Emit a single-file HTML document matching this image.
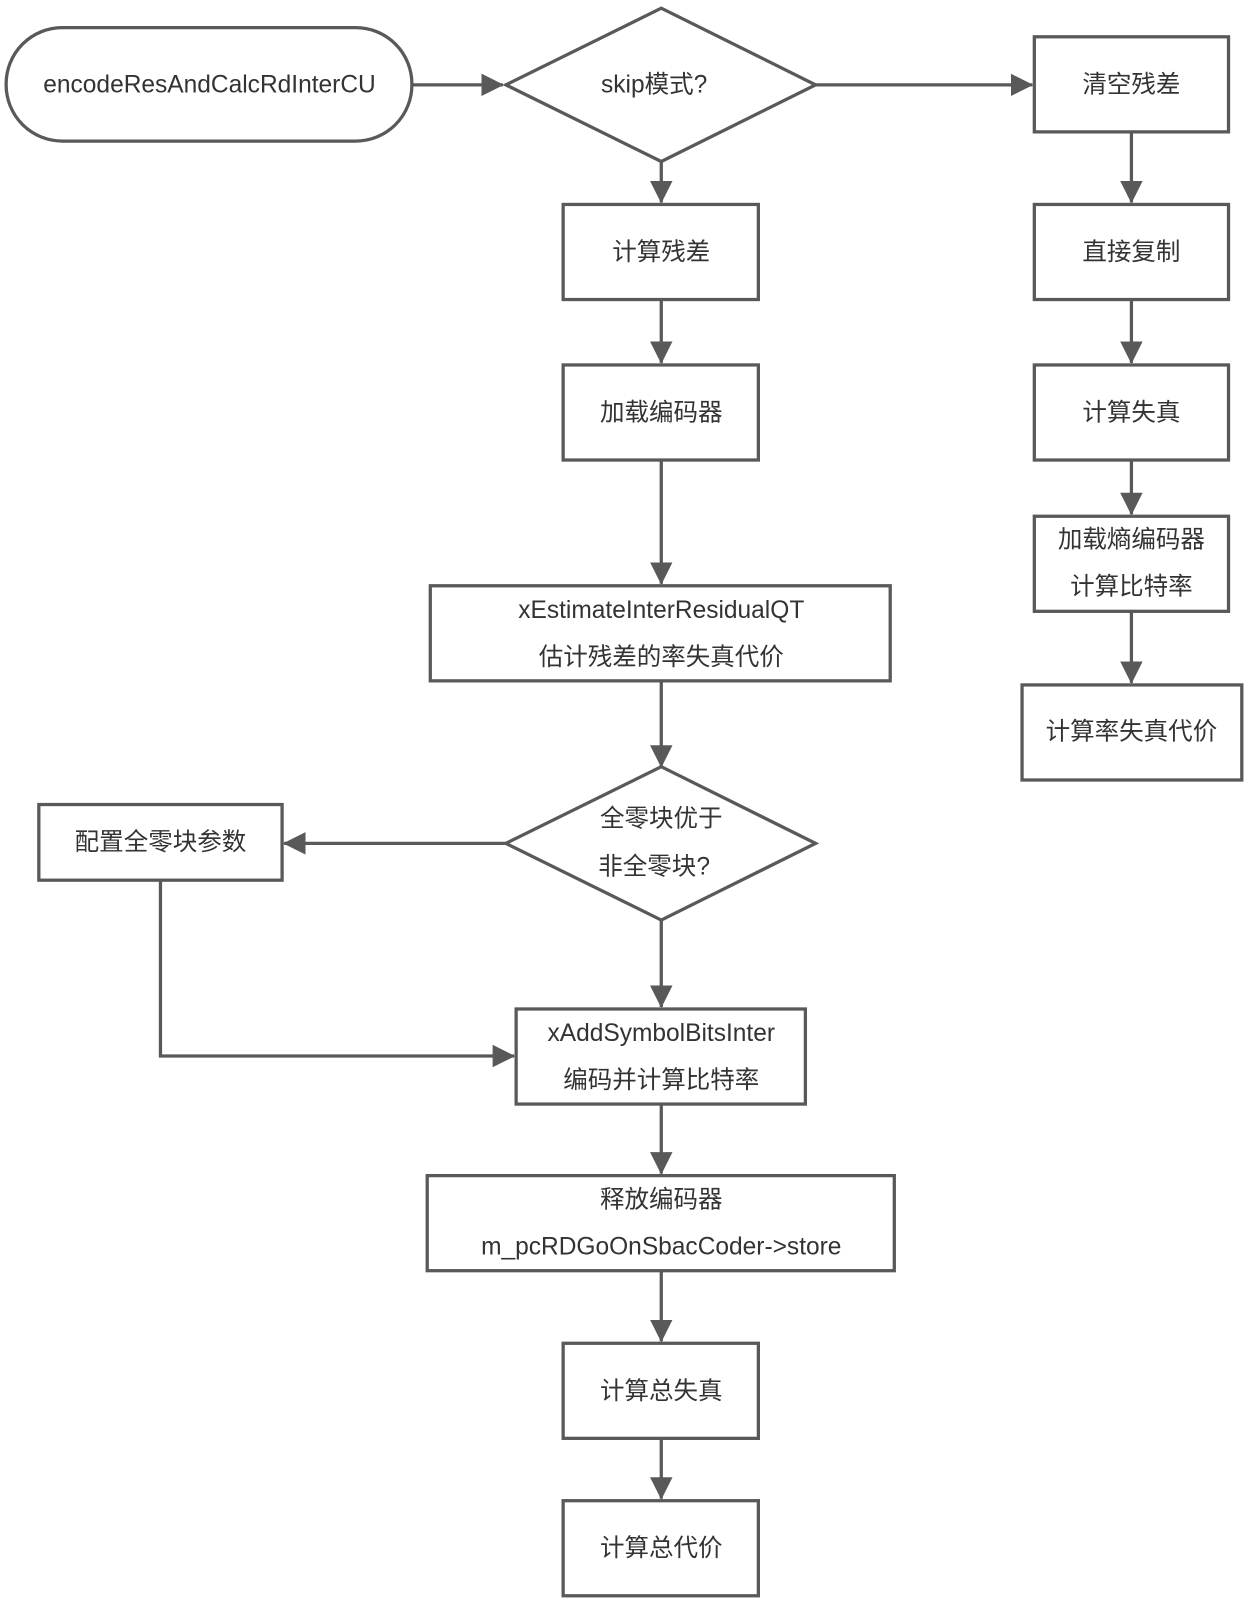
<!DOCTYPE html>
<html><head><meta charset="utf-8"><style>
html,body{margin:0;padding:0;background:#fff;}
svg{display:block;}
text{font-family:"Liberation Sans","Noto Sans CJK SC",sans-serif;font-size:24px;fill:#333;text-anchor:middle;dominant-baseline:central;}
.s{fill:#fff;stroke:#595959;stroke-width:3.2;}
.l{stroke:#595959;stroke-width:3.2;fill:none;}
</style></head><body>
<svg width="1251" height="1606" viewBox="0 0 1224 1571" preserveAspectRatio="none" xmlns="http://www.w3.org/2000/svg">
<defs><marker id="a" markerWidth="8" markerHeight="8" refX="7" refY="4" orient="auto" markerUnits="userSpaceOnUse" viewBox="0 0 8 8"><path d="M0,0 L8,4 L0,8 z" fill="#595959"/></marker>
<marker id="b" markerWidth="22" markerHeight="22" refX="21" refY="11" orient="auto" markerUnits="userSpaceOnUse"><path d="M0,0 L22,11 L0,22 z" fill="#595959"/></marker></defs>
<!-- connectors -->
<g class="l" marker-end="url(#b)">
<line x1="403" y1="83" x2="492" y2="83"/>
<line x1="798" y1="83" x2="1010" y2="83"/>
<line x1="647" y1="158" x2="647" y2="198"/>
<line x1="647" y1="293" x2="647" y2="355"/>
<line x1="647" y1="450" x2="647" y2="571"/>
<line x1="647" y1="666" x2="647" y2="750"/>
<line x1="495" y1="825" x2="278" y2="825"/>
<polyline points="157,861 157,1033 503,1033"/>
<line x1="647" y1="900" x2="647" y2="985"/>
<line x1="647" y1="1080" x2="647" y2="1148"/>
<line x1="647" y1="1243" x2="647" y2="1312"/>
<line x1="647" y1="1407" x2="647" y2="1466"/>
<line x1="1107" y1="129" x2="1107" y2="198"/>
<line x1="1107" y1="293" x2="1107" y2="355"/>
<line x1="1107" y1="450" x2="1107" y2="503"/>
<line x1="1107" y1="598" x2="1107" y2="668"/>
</g>
<!-- shapes -->
<rect class="s" x="6" y="27" width="397" height="111" rx="55"/>
<text x="205" y="83">encodeResAndCalcRdInterCU</text>
<polygon class="s" points="647,8 798,83 647,158 495,83"/>
<text x="640" y="83">skip模式?</text>
<rect class="s" x="1012" y="36" width="190" height="93"/><text x="1107" y="83">清空残差</text>
<rect class="s" x="551" y="200" width="191" height="93"/><text x="647" y="247">计算残差</text>
<rect class="s" x="551" y="357" width="191" height="93"/><text x="647" y="404">加载编码器</text>
<rect class="s" x="421" y="573" width="450" height="93"/><text x="647" y="597">xEstimateInterResidualQT</text><text x="647" y="643">估计残差的率失真代价</text>
<polygon class="s" points="647,750 798,825 647,900 495,825"/>
<text x="647" y="801">全零块优于</text><text x="640" y="848">非全零块?</text>
<rect class="s" x="38" y="787" width="238" height="74"/><text x="157" y="824">配置全零块参数</text>
<rect class="s" x="505" y="987" width="283" height="93"/><text x="647" y="1011">xAddSymbolBitsInter</text><text x="647" y="1057">编码并计算比特率</text>
<rect class="s" x="418" y="1150" width="457" height="93"/><text x="647" y="1174">释放编码器</text><text x="647" y="1220">m_pcRDGoOnSbacCoder-&gt;store</text>
<rect class="s" x="551" y="1314" width="191" height="93"/><text x="647" y="1361">计算总失真</text>
<rect class="s" x="551" y="1468" width="191" height="93"/><text x="647" y="1515">计算总代价</text>
<rect class="s" x="1012" y="200" width="190" height="93"/><text x="1107" y="247">直接复制</text>
<rect class="s" x="1012" y="357" width="190" height="93"/><text x="1107" y="404">计算失真</text>
<rect class="s" x="1012" y="505" width="190" height="93"/><text x="1107" y="528">加载熵编码器</text><text x="1107" y="574">计算比特率</text>
<rect class="s" x="1000" y="670" width="215" height="93"/><text x="1107" y="716">计算率失真代价</text>
</svg>
</body></html>
